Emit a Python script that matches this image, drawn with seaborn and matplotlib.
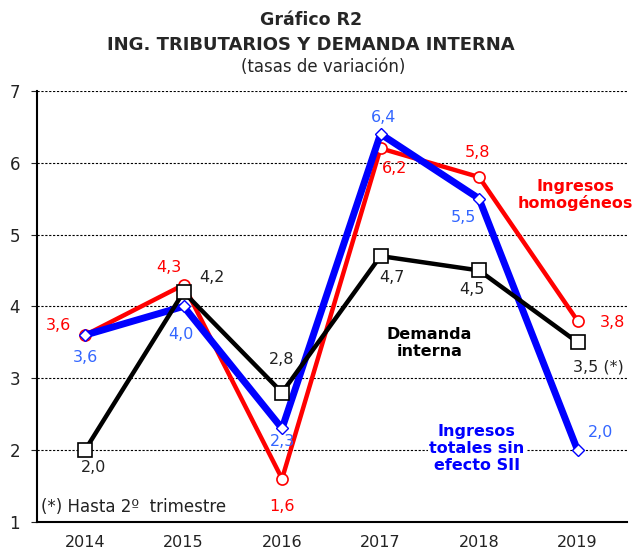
import pandas as pd
import seaborn as sns
from matplotlib import pyplot as plt

years = ['2014', '2015', '2016', '2017', '2018', '2019']
homogeneos = [3.6, 4.3, 1.6, 6.2, 5.8, 3.8]
totales_sin_sii = [3.6, 4.0, 2.3, 6.4, 5.5, 2.0]
demanda = [2.0, 4.2, 2.8, 4.7, 4.5, 3.5]

labels_hom = ['3,6', '4,3', '1,6', '6,2', '5,8', '3,8']
labels_tot = ['3,6', '4,0', '2,3', '6,4', '5,5', '2,0']
labels_dem = ['2,0', '4,2', '2,8', '4,7', '4,5', '3,5 (*)']

# label offsets in pixels (dx, dy)
off_hom = [(-27, 10), (-15, 17), (0, -28), (14, -20), (-2, 25), (35, -2)]
off_tot = [(0, -22), (-3, -28), (0, -13), (3, 16), (-16, -19), (23, 18)]
off_dem = [(8, -17), (28, 14), (0, 33), (11, -21), (-7, -19), (21, -25)]

RED = '#ff0000'
BLUE = '#0000ff'
BLUE_TXT = '#3366ff'
DARK = '#222222'

df = pd.DataFrame({'x': range(len(years)), 'hom': homogeneos,
                   'tot': totales_sin_sii, 'dem': demanda})

sns.set_style('white')
plt.rcParams['font.family'] = ['DejaVu Sans']

fig = plt.figure(figsize=(6.35, 5.54), dpi=100)
ax = fig.add_axes([0.058, 0.058, 0.929, 0.778])

sns.lineplot(data=df, x='x', y='hom', ax=ax, color=RED, lw=3.2, marker='o',
             markersize=8, markerfacecolor='white', markeredgecolor=RED,
             markeredgewidth=1.2, zorder=3)
sns.lineplot(data=df, x='x', y='tot', ax=ax, color=BLUE, lw=5, marker='D',
             markersize=6.5, markerfacecolor='white', markeredgecolor=BLUE,
             markeredgewidth=1.0, zorder=4)
sns.lineplot(data=df, x='x', y='dem', ax=ax, color='black', lw=3.2, marker='s',
             markersize=10, markerfacecolor='white', markeredgecolor='black',
             markeredgewidth=1.2, zorder=5)

for vals, labs, offs, col in [(homogeneos, labels_hom, off_hom, RED),
                              (totales_sin_sii, labels_tot, off_tot, BLUE_TXT),
                              (demanda, labels_dem, off_dem, DARK)]:
    for i, (v, lab, o) in enumerate(zip(vals, labs, offs)):
        ax.annotate(lab, (i, v), xytext=o, textcoords='offset pixels',
                    ha='center', va='center', fontsize=11.5, color=col, zorder=6)

ax.set_xlim(-0.49, 5.5)
ax.set_ylim(1, 7)
ax.set_xticks(range(len(years)))
ax.set_xticklabels(years)
ax.set_yticks(range(1, 8))
ax.tick_params(axis='x', length=0, labelsize=11.5, pad=9.5, colors=DARK)
ax.tick_params(axis='y', length=4, direction='out', labelsize=12, pad=8,
               colors=DARK, left=True)
ax.set_xlabel('')
ax.set_ylabel('')
for y in range(2, 8):
    ax.axhline(y, color='black', lw=0.8, ls=(0, (2, 1.5)), zorder=1)
for s in ['top', 'right']:
    ax.spines[s].set_visible(False)
ax.spines['left'].set_color('black')
ax.spines['bottom'].set_color('black')
ax.spines['left'].set_linewidth(1.5)
ax.spines['bottom'].set_linewidth(1.5)

ax.text(0.906, 0.648, 'Ingresos\nhomogéneos', transform=fig.transFigure,
        ha='center', va='center', fontsize=11.5, color=RED, fontweight='bold',
        linespacing=1.15)
ax.text(0.676, 0.381, 'Demanda\ninterna', transform=fig.transFigure,
        ha='center', va='center', fontsize=11.5, color='black',
        fontweight='bold', linespacing=1.15)
ax.text(0.751, 0.190, 'Ingresos\ntotales sin\nefecto SII',
        transform=fig.transFigure, ha='center', va='center', fontsize=11.5,
        color=BLUE, fontweight='bold', linespacing=1.15, zorder=6,
        bbox=dict(facecolor='white', edgecolor='none', pad=1))
ax.text(0.065, 0.085, '(*) Hasta 2º  trimestre', transform=fig.transFigure,
        ha='left', va='center', fontsize=12, color=DARK, zorder=6)

fig.text(0.49, 0.964, 'Gráfico R2', ha='center', va='center', fontsize=12.5,
         fontweight='bold')
fig.text(0.49, 0.919, 'ING. TRIBUTARIOS Y DEMANDA INTERNA', ha='center',
         va='center', fontsize=13, fontweight='bold')
fig.text(0.509, 0.879, '(tasas de variación)', ha='center', va='center',
         fontsize=12)

fig.savefig('out.png', dpi=100)
